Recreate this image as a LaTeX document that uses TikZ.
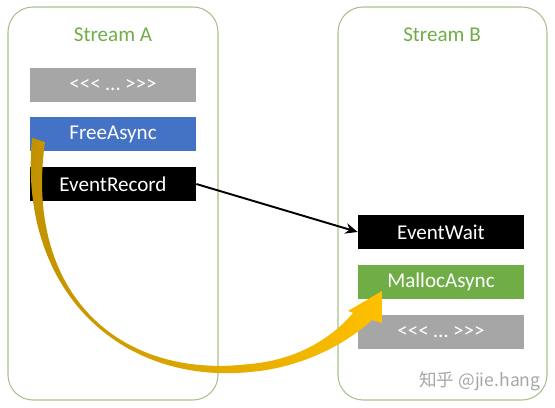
\documentclass[tikz,border=0pt]{standalone}
\usepackage{fontspec}
\setmainfont{Carlito}
\newfontfamily\cjk{Noto Sans CJK SC}
\usetikzlibrary{arrows.meta}
\definecolor{streamgreen}{HTML}{70AD47}
\definecolor{streamline}{HTML}{A9C08A}
\definecolor{opblue}{HTML}{4472C4}
\definecolor{opgray}{HTML}{A6A6A6}
\definecolor{golddark}{HTML}{BF9000}
\definecolor{goldlight}{HTML}{FFC000}
\newcommand{\launch}{<{}<{}< … >{}>{}>}
\begin{document}
\begin{tikzpicture}[x=0.02cm,y=-0.02cm,
  stream/.style={draw=streamline,line width=0.6pt,rounded corners=0.5cm},
  title/.style={text=streamgreen,font=\fontsize{12}{14}\selectfont},
  op/.style={minimum width=3.32cm,minimum height=0.68cm,inner sep=0pt,text=white,font=\fontsize{12}{14}\selectfont}]
\useasboundingbox (0,0) rectangle (555,408);
\draw[stream] (8,7) rectangle (218,400);
\draw[stream] (338,7) rectangle (547,400);
\node[title] (ta) at (113,35) {Stream A};
\node[title] (tb) at (442,35) {Stream B};

\node[op,fill=opgray] (a1) at (113,85) {\launch};
\node[op,fill=opblue] (a2) at (113,134) {FreeAsync};
\node[op,fill=black] (a3) at (113,184) {EventRecord};

\node[op,fill=black] (b1) at (441,232) {EventWait};
\node[op,fill=streamgreen] (b2) at (441,282) {MallocAsync};
\node[op,fill=opgray] (b3) at (441,332) {\launch};

\node[text=gray!70,font=\cjk\fontsize{10}{12}\selectfont] (mark) at (480,381) {知乎 @jie.hang};

\draw[-{Stealth[length=7pt,width=6pt]},line width=1.1pt] (a3.east) -- (b1.west);

\shade[left color=golddark,right color=goldlight]
  (32,138) .. controls (18,290) and (120,385) .. (250,372)
  .. controls (300,368) and (345,345) .. (372,320)
  -- (382,323) -- (382,291) -- (348,311) -- (353,313)
  .. controls (330,340) and (295,360) .. (250,364)
  .. controls (118,380) and (24,292) .. (45,142) -- cycle;
\end{tikzpicture}
\end{document}
